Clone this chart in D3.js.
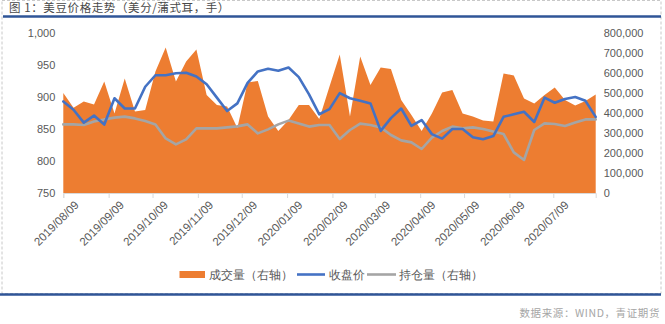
<!DOCTYPE html>
<html>
<head>
<meta charset="utf-8">
<script src="https://cdn.jsdelivr.net/npm/d3@7"></script>
<style>
  html, body { margin: 0; padding: 0; background: #fff; }
  svg { display: block; }
  text { font-family: "Liberation Sans", Arial, sans-serif; }
  .cjk { font-family: "Noto Sans CJK SC", sans-serif; }
</style>
</head>
<body>
<svg id="chart" width="665" height="324"></svg>
<script>
// Weekly observations (Fridays) starting 2019-08-09
const startDate = "2019-08-09";
const weekCount = 53;

// 成交量 (right axis, contracts)
const volume = [
  500000, 426000, 457000, 443000, 557000, 398000, 573000, 407000, 415000, 607000,
  727000, 557000, 657000, 718000, 490000, 440000, 432000, 325000, 553000, 560000,
  382000, 310000, 365000, 440000, 440000, 370000, 532000, 693000, 382000, 682000,
  540000, 627000, 620000, 465000, 390000, 310000, 398000, 502000, 515000, 398000,
  382000, 362000, 357000, 598000, 587000, 473000, 448000, 490000, 528000, 465000,
  437000, 460000, 493000
];

// 收盘价 (left axis, cents/bushel)
const closePrice = [
  893, 880, 860, 871, 857, 898, 882, 882, 916, 934,
  934, 937, 938, 932, 920, 899, 878, 890, 922, 940,
  944, 941, 946, 931, 904, 873, 881, 906, 898, 894,
  890, 847, 867, 882, 855, 864, 842, 835, 850, 850,
  837, 834, 839, 869, 873, 877, 861, 899, 891, 897,
  900, 894, 869
];

// 持仓量 (right axis, contracts)
const openInterest = [
  343000, 343000, 340000, 357000, 368000, 377000, 382000, 373000, 360000, 343000,
  273000, 243000, 268000, 323000, 323000, 323000, 328000, 333000, 343000, 298000,
  318000, 343000, 362000, 348000, 332000, 340000, 340000, 270000, 315000, 347000,
  340000, 328000, 290000, 263000, 253000, 220000, 277000, 310000, 332000, 323000,
  328000, 320000, 307000, 295000, 203000, 165000, 315000, 348000, 345000, 335000,
  352000, 368000, 368000
];

// Axis ticks
const tickDates = [
  "2019/08/09", "2019/09/09", "2019/10/09", "2019/11/09", "2019/12/09", "2020/01/09",
  "2020/02/09", "2020/03/09", "2020/04/09", "2020/05/09", "2020/06/09", "2020/07/09"
];
const leftTicks = [750, 800, 850, 900, 950, 1000];
const rightTicks = [0, 100000, 200000, 300000, 400000, 500000, 600000, 700000, 800000];

const legendItems = ["成交量（右轴）", "收盘价", "持仓量（右轴）"];
const titleText = "图 1：美豆价格走势（美分/蒲式耳，手）";
const sourceText = "数据来源：WIND，青证期货";

const parse = d3.utcParse("%Y-%m-%d");
const parseTick = d3.utcParse("%Y/%m/%d");
const t0 = parse(startDate);
const dates = d3.range(weekCount).map(i => d3.utcDay.offset(t0, 7 * i));

const svg = d3.select("#chart");

const colors = { vol: "#ED7D31", price: "#4472C4", oi: "#A5A5A5", axis: "#D9D9D9", label: "#595959" };

const plot = { left: 63.3, right: 595.7, top: 33, bottom: 193 };

const x = d3.scaleUtc().domain([dates[0], dates[dates.length - 1]]).range([plot.left, plot.right]);
const yL = d3.scaleLinear().domain([750, 1000]).range([plot.bottom, plot.top]);
const yR = d3.scaleLinear().domain([0, 800000]).range([plot.bottom, plot.top]);

// Frame: dashed outline and blue rules
svg.append("rect")
  .attr("x", 2).attr("y", 0.5).attr("width", 659).attr("height", 293)
  .attr("fill", "none").attr("stroke", "#C8C8C8").attr("stroke-dasharray", "3,2");
svg.append("line").attr("x1", 3).attr("x2", 661).attr("y1", 16.5).attr("y2", 16.5)
  .attr("stroke", "#2F5597").attr("stroke-width", 2.5);
svg.append("line").attr("x1", 0).attr("x2", 661).attr("y1", 294.5).attr("y2", 294.5)
  .attr("stroke", "#2F5597").attr("stroke-width", 2.5);

svg.append("text").attr("class", "cjk")
  .attr("x", 9).attr("y", 12).attr("font-size", 11.5).attr("fill", "#4a4a4a")
  .attr("letter-spacing", 0.6)
  .text(titleText);

svg.append("text").attr("class", "cjk")
  .attr("x", 660).attr("y", 317).attr("text-anchor", "end")
  .attr("font-size", 10.5).attr("fill", "#A6A6A6").attr("letter-spacing", 0.6)
  .text(sourceText);

// Volume area
const area = d3.area()
  .x((d, i) => x(dates[i]))
  .y0(yR(0))
  .y1(d => yR(d));
svg.append("path").datum(volume)
  .attr("d", area).attr("fill", colors.vol);

// Lines
const linePrice = d3.line().x((d, i) => x(dates[i])).y(d => yL(d));
const lineOI = d3.line().x((d, i) => x(dates[i])).y(d => yR(d));

svg.append("path").datum(openInterest)
  .attr("d", lineOI).attr("fill", "none").attr("stroke", colors.oi)
  .attr("stroke-width", 2.6).attr("stroke-linejoin", "round").attr("stroke-linecap", "round");
svg.append("path").datum(closePrice)
  .attr("d", linePrice).attr("fill", "none").attr("stroke", colors.price)
  .attr("stroke-width", 2.6).attr("stroke-linejoin", "round").attr("stroke-linecap", "round");

// X axis
const xAxis = d3.axisBottom(x)
  .tickValues(tickDates.map(parseTick))
  .tickFormat(d3.utcFormat("%Y/%m/%d"))
  .tickSize(5).tickSizeOuter(5);
const gx = svg.append("g").attr("transform", `translate(0,${plot.bottom})`).call(xAxis);
gx.select(".domain").attr("stroke", colors.axis);
gx.selectAll(".tick line").attr("stroke", colors.axis);
gx.selectAll(".tick text")
  .attr("fill", colors.label).attr("font-size", 11.5)
  .attr("text-anchor", "end")
  .attr("transform", "translate(10,7) rotate(-45)")
  .attr("x", 0).attr("y", 0).attr("dy", "0.7em");

// Left axis
const gl = svg.append("g").attr("transform", `translate(${plot.left},0)`)
  .call(d3.axisLeft(yL).tickValues(leftTicks).tickFormat(d3.format(",")).tickSize(0).tickPadding(8));
gl.select(".domain").remove();
gl.selectAll("text").attr("fill", colors.label).attr("font-size", 11);

// Right axis
const gr = svg.append("g").attr("transform", `translate(${plot.right},0)`)
  .call(d3.axisRight(yR).tickValues(rightTicks).tickFormat(d3.format(",")).tickSize(0).tickPadding(8));
gr.select(".domain").remove();
gr.selectAll("text").attr("fill", colors.label).attr("font-size", 11);

// Legend
const leg = svg.append("g").attr("class", "cjk").attr("font-size", 12).attr("fill", colors.label);
leg.append("rect").attr("x", 179.5).attr("y", 271).attr("width", 25.5).attr("height", 7).attr("fill", colors.vol);
leg.append("text").attr("x", 209).attr("y", 278.5).text(legendItems[0]);
leg.append("line").attr("x1", 297).attr("x2", 325).attr("y1", 274.5).attr("y2", 274.5)
  .attr("stroke", colors.price).attr("stroke-width", 2.6);
leg.append("text").attr("x", 329).attr("y", 278.5).text(legendItems[1]);
leg.append("line").attr("x1", 367).attr("x2", 396).attr("y1", 274.5).attr("y2", 274.5)
  .attr("stroke", colors.oi).attr("stroke-width", 2.6);
leg.append("text").attr("x", 399).attr("y", 278.5).text(legendItems[2]);
</script>
</body>
</html>
